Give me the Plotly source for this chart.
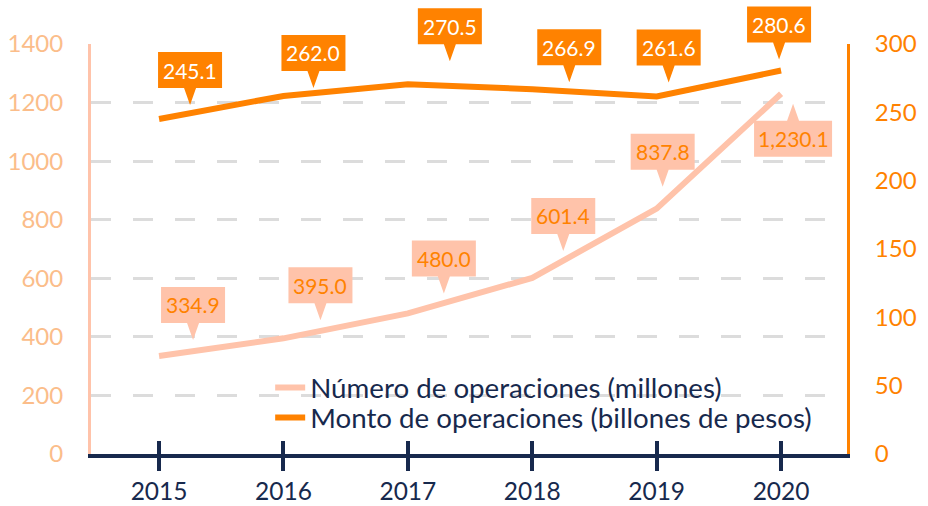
import plotly.graph_objects as go

# ---- data ----
years = [2015, 2016, 2017, 2018, 2019, 2020]
numero = [334.9, 395.0, 480.0, 601.4, 837.8, 1230.1]   # millones (eje izq.)
monto = [245.1, 262.0, 270.5, 266.9, 261.6, 280.6]     # billones de pesos (eje der.)
numero_labels = ["334.9", "395.0", "480.0", "601.4", "837.8", "1,230.1"]
monto_labels = ["245.1", "262.0", "270.5", "266.9", "261.6", "280.6"]
left_ticks = [0, 200, 400, 600, 800, 1000, 1200, 1400]
right_ticks = [0, 50, 100, 150, 200, 250, 300]
name_num = "Número de operaciones (millones)"
name_mon = "Monto de operaciones (billones de pesos)"

# ---- style ----
ORANGE = "#ff8200"
SALMON = "#ffc3aa"
LEFT_LBL = "#fbbd8a"
NAVY = "#17294d"
GRID = "#dcdcdc"
FONT = "Lato, 'Noto Sans', sans-serif"

# callout tip offsets in px relative to data point (dx right, up positive)
mon_off = [(31, 14), (30, 8), (42, 23), (37, 7), (12, 14), (-2, 11)]
num_off = [(34, 16), (37, 18), (36, 20), (31, 27), (6, 22), (12, -10)]
BOX_H = 36
PTR_H = 17
PTR_HW = 6

XRANGE = [2014.453, 2020.53]
LRANGE = [0, 1400]
RRANGE = [0, 300]

fig = go.Figure()
fig.add_trace(go.Scatter(x=years, y=numero, name=name_num, mode="lines",
                         line=dict(color=SALMON, width=6), yaxis="y",
                         legend="legend"))
fig.add_trace(go.Scatter(x=years, y=monto, name=name_mon, mode="lines",
                         line=dict(color=ORANGE, width=6), yaxis="y2",
                         legend="legend2"))
# helper trace for inner tick marks
fig.add_trace(go.Scatter(x=years, y=[None] * len(years), xaxis="x2", yaxis="y",
                         showlegend=False, hoverinfo="skip"))

shapes = []
annotations = []


def to_paper(v, rng):
    return (v - rng[0]) / (rng[1] - rng[0])


def callout(x, y, rng, text, dx, up, fill, tcolor):
    w = 78 if len(text) > 5 else 64
    hw = w / 2
    if up >= 0:
        b = up + PTR_H
        t = b + BOX_H
        path = (f"M{dx-hw},{b} L{dx-PTR_HW},{b} L{dx},{up} L{dx+PTR_HW},{b} "
                f"L{dx+hw},{b} L{dx+hw},{t} L{dx-hw},{t} Z")
        cy = (b + t) / 2
    else:
        tp = up - PTR_H
        bt = tp - BOX_H
        path = (f"M{dx-hw},{tp} L{dx-PTR_HW},{tp} L{dx},{up} L{dx+PTR_HW},{tp} "
                f"L{dx+hw},{tp} L{dx+hw},{bt} L{dx-hw},{bt} Z")
        cy = (tp + bt) / 2
    px = to_paper(x, XRANGE)
    py = to_paper(y, rng)
    shapes.append(dict(type="path", xref="paper", yref="paper",
                       xsizemode="pixel", ysizemode="pixel",
                       xanchor=px, yanchor=py, path=path,
                       fillcolor=fill, line=dict(width=0), layer="above"))
    annotations.append(dict(x=px, y=py, xref="paper", yref="paper", text=text,
                            showarrow=False, xshift=dx, yshift=cy,
                            xanchor="center", yanchor="middle",
                            font=dict(family=FONT, size=21, color=tcolor)))


for yr, v, lbl, (dx, up) in zip(years, monto, monto_labels, mon_off):
    callout(yr, v, RRANGE, lbl, dx, up, ORANGE, "white")
for yr, v, lbl, (dx, up) in zip(years, numero, numero_labels, num_off):
    callout(yr, v, LRANGE, lbl, dx, up, SALMON, ORANGE)

legend_common = dict(xanchor="left", yanchor="middle",
                     bgcolor="rgba(0,0,0,0)",
                     font=dict(size=27.7, color=NAVY, family=FONT))

fig.update_layout(
    width=928, height=506,
    margin=dict(l=91, r=81, t=44, b=52),
    paper_bgcolor="white", plot_bgcolor="white",
    font=dict(family=FONT, color=NAVY),
    showlegend=True,
    legend=dict(x=0.237, y=0.161, **legend_common),
    legend2=dict(x=0.237, y=0.088, **legend_common),
    xaxis=dict(range=XRANGE, tickvals=years, ticktext=[str(y) for y in years],
               showgrid=False, zeroline=False, showline=True, linecolor=NAVY,
               linewidth=4, ticks="outside", ticklen=13, tickwidth=4,
               tickcolor=NAVY, tickfont=dict(size=24.5, color=NAVY),
               ticklabelstandoff=0, automargin=False),
    xaxis2=dict(range=XRANGE, overlaying="x", anchor="y", side="bottom",
                tickvals=years, showticklabels=False, showgrid=False,
                zeroline=False, showline=False, ticks="inside", ticklen=13,
                tickwidth=4, tickcolor=NAVY, automargin=False),
    yaxis=dict(range=LRANGE, tickvals=left_ticks, showgrid=True,
               gridcolor=GRID, gridwidth=3, griddash="20px,22px",
               zeroline=False, showline=True, linecolor=SALMON, linewidth=3,
               ticks="", tickfont=dict(size=24, color=LEFT_LBL),
               ticklabelstandoff=20, automargin=False),
    yaxis2=dict(range=RRANGE, tickvals=right_ticks, overlaying="y",
                side="right", showgrid=False, zeroline=False, showline=True,
                linecolor=ORANGE, linewidth=3, ticks="",
                tickfont=dict(size=24, color=ORANGE), ticklabelstandoff=20,
                automargin=False),
    shapes=shapes,
    annotations=annotations,
)

fig.write_html("out.html",
               config={"displayModeBar": False},
               post_script="document.body.style.margin='0';"
                           "document.body.style.overflow='hidden';")
